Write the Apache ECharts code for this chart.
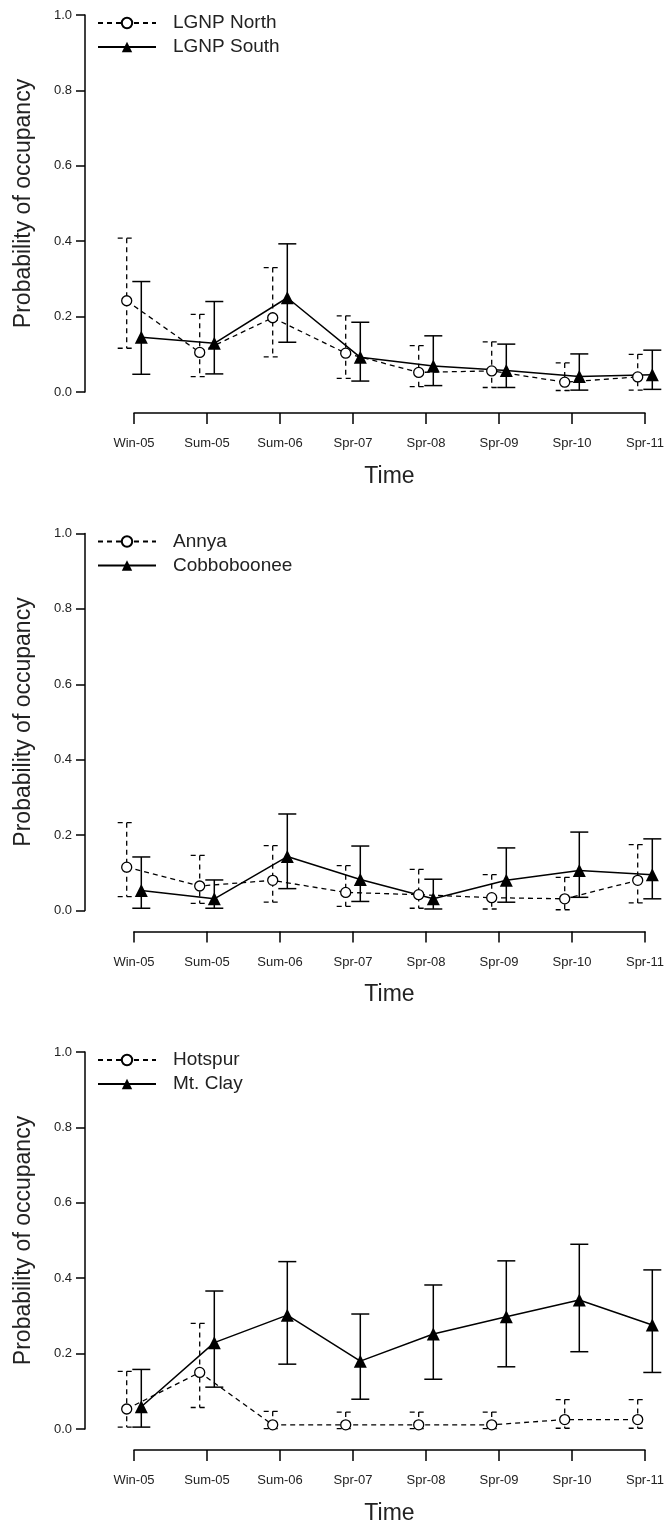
<!DOCTYPE html>
<html>
<head>
<meta charset="utf-8">
<title>Probability of occupancy</title>
<script src="https://cdn.jsdelivr.net/npm/echarts@6/dist/echarts.min.js"></script>
<style>
  html, body { margin: 0; padding: 0; background: #fff; }
  #chart { width: 664px; height: 1526px; }
</style>
</head>
<body>
<div id="chart"></div>
<script>
// survey occasions (x categories)
var times = ["Win-05", "Sum-05", "Sum-06", "Spr-07", "Spr-08", "Spr-09", "Spr-10", "Spr-11"];

// panel 1
var lgnpNorth = [0.242, 0.105, 0.197, 0.103, 0.052, 0.056, 0.026, 0.040];
var lgnpNorthLow = [0.116, 0.041, 0.093, 0.036, 0.014, 0.012, 0.004, 0.005];
var lgnpNorthHigh = [0.408, 0.206, 0.330, 0.202, 0.123, 0.133, 0.077, 0.100];
var lgnpSouth = [0.145, 0.129, 0.250, 0.092, 0.069, 0.057, 0.041, 0.046];
var lgnpSouthLow = [0.047, 0.048, 0.132, 0.029, 0.017, 0.012, 0.005, 0.007];
var lgnpSouthHigh = [0.293, 0.240, 0.393, 0.185, 0.149, 0.127, 0.101, 0.111];

// panel 2
var annya = [0.115, 0.065, 0.080, 0.048, 0.042, 0.034, 0.031, 0.080];
var annyaLow = [0.037, 0.019, 0.022, 0.011, 0.006, 0.004, 0.002, 0.020];
var annyaHigh = [0.233, 0.146, 0.172, 0.119, 0.109, 0.095, 0.088, 0.175];
var cobboboonee = [0.053, 0.031, 0.143, 0.082, 0.031, 0.080, 0.106, 0.095];
var cobbobooneeLow = [0.006, 0.006, 0.058, 0.024, 0.004, 0.022, 0.035, 0.031];
var cobbobooneeHigh = [0.142, 0.081, 0.256, 0.171, 0.083, 0.166, 0.208, 0.190];

// panel 3
var hotspur = [0.053, 0.150, 0.011, 0.011, 0.011, 0.011, 0.025, 0.025];
var hotspurLow = [0.005, 0.057, 0.001, 0.001, 0.001, 0.001, 0.002, 0.002];
var hotspurHigh = [0.153, 0.280, 0.047, 0.045, 0.045, 0.045, 0.078, 0.078];
var mtClay = [0.059, 0.229, 0.302, 0.180, 0.252, 0.298, 0.342, 0.276];
var mtClayLow = [0.005, 0.111, 0.172, 0.079, 0.132, 0.165, 0.205, 0.150];
var mtClayHigh = [0.158, 0.366, 0.444, 0.305, 0.382, 0.446, 0.490, 0.422];

var panels = [
  { dashed: ["LGNP North", lgnpNorth, lgnpNorthLow, lgnpNorthHigh],
    solid: ["LGNP South", lgnpSouth, lgnpSouthLow, lgnpSouthHigh] },
  { dashed: ["Annya", annya, annyaLow, annyaHigh],
    solid: ["Cobboboonee", cobboboonee, cobbobooneeLow, cobbobooneeHigh] },
  { dashed: ["Hotspur", hotspur, hotspurLow, hotspurHigh],
    solid: ["Mt. Clay", mtClay, mtClayLow, mtClayHigh] }
];

// layout (pixels)
var FONT = "'Liberation Sans', Arial, sans-serif";
var TXT = "#222";
var AXIS_X = 85;        // y axis line
var FIRST_TICK = 134;   // Win-05
var STEP = 73;          // distance between occasions
var PANEL_TOP = 15;     // y of 1.0 in first panel
var PANEL_STEP = 518.5;
var PLOT_H = 377;
var DODGE = 0.1;        // sideways shift of the two sites
var CAP = 9;            // half width of error bar caps

var xMin = -(FIRST_TICK - AXIS_X) / STEP;
var xMax = xMin + (664 - AXIS_X) / STEP;

function errorBars(dashed) {
  return function (params, api) {
    var x = api.value(0);
    var lo = api.coord([x, api.value(1)]);
    var hi = api.coord([x, api.value(2)]);
    var style = {
      stroke: "#000",
      lineWidth: dashed ? 1.3 : 1.5,
      lineDash: dashed ? [5, 4] : null,
      fill: null
    };
    return {
      type: "group",
      children: [
        { type: "line", shape: { x1: hi[0], y1: hi[1], x2: lo[0], y2: lo[1] }, style: style },
        { type: "line", shape: { x1: hi[0] - CAP, y1: hi[1], x2: hi[0] + CAP, y2: hi[1] }, style: style },
        { type: "line", shape: { x1: lo[0] - CAP, y1: lo[1], x2: lo[0] + CAP, y2: lo[1] }, style: style }
      ]
    };
  };
}

var grid = [], xAxis = [], yAxis = [], legend = [], series = [];

panels.forEach(function (p, k) {
  var top = PANEL_TOP + k * PANEL_STEP;
  var a = grid.length;
  // data grid
  grid.push({ left: AXIS_X, width: 664 - AXIS_X, top: top, height: PLOT_H, outerBoundsMode: "none" });
  // separate time axis, drawn below the plot like in R
  grid.push({ left: FIRST_TICK, right: 664 - (FIRST_TICK + 7 * STEP), top: top + PLOT_H + 20, height: 1, outerBoundsMode: "none" });

  xAxis.push({ gridIndex: a, type: "value", min: xMin, max: xMax, show: false });
  yAxis.push({
    gridIndex: a, type: "value", min: 0, max: 1, interval: 0.2,
    name: "Probability of occupancy", nameLocation: "middle", nameGap: 50,
    nameTextStyle: { fontFamily: FONT, fontSize: 23, color: TXT },
    axisLine: { show: true, onZero: false, lineStyle: { color: "#000", width: 1.5 } },
    axisTick: { show: true, inside: false, length: 9, lineStyle: { color: "#000", width: 1.5 } },
    axisLabel: { margin: 13, fontFamily: FONT, fontSize: 13, color: TXT,
      formatter: function (v) { return v.toFixed(1); } },
    splitLine: { show: false }
  });

  xAxis.push({
    gridIndex: a + 1, type: "category", data: times, boundaryGap: false, position: "bottom",
    name: "Time", nameLocation: "middle", nameGap: 52,
    nameTextStyle: { fontFamily: FONT, fontSize: 23, color: TXT },
    axisLine: { show: true, onZero: false, lineStyle: { color: "#000", width: 1.5 } },
    axisTick: { show: true, inside: false, length: 11, lineStyle: { color: "#000", width: 1.5 } },
    axisLabel: { interval: 0, margin: 24, fontFamily: FONT, fontSize: 13, color: TXT },
    splitLine: { show: false }
  });
  yAxis.push({ gridIndex: a + 1, type: "value", show: false });

  legend.push({
    orient: "vertical", left: 97, top: top - 2, padding: 0,
    itemWidth: 58, itemHeight: 13, itemGap: 4,
    textStyle: { fontFamily: FONT, fontSize: 19, color: TXT, lineHeight: 20, padding: [0, 0, 0, 12] },
    data: [p.dashed[0], p.solid[0]]
  });

  [p.dashed, p.solid].forEach(function (s, j) {
    var dashed = j === 0;
    var shift = dashed ? -DODGE : DODGE;
    var pts = s[1].map(function (v, i) { return [i + shift, v]; });
    var bars = s[1].map(function (v, i) { return [i + shift, s[2][i], s[3][i]]; });
    series.push({
      name: s[0] + " CI", type: "custom", xAxisIndex: a, yAxisIndex: a,
      renderItem: errorBars(dashed), clip: false, z: 1,
      encode: { x: 0, y: [1, 2] },
      data: bars
    });
    series.push({
      name: s[0], type: "line", xAxisIndex: a, yAxisIndex: a, clip: false, z: 3,
      symbol: dashed ? "circle" : "triangle",
      symbolSize: dashed ? 10 : 13,
      lineStyle: { color: "#000", width: dashed ? 1.3 : 1.5, type: dashed ? [5, 4] : "solid" },
      itemStyle: dashed ? { color: "#fff", borderColor: "#000", borderWidth: 1.3 } : { color: "#000", borderWidth: 0 },
      data: pts
    });
  });
});

var chart = echarts.init(document.getElementById("chart"));
chart.setOption({
  animation: false,
  backgroundColor: "#fff",
  grid: grid,
  xAxis: xAxis,
  yAxis: yAxis,
  legend: legend,
  series: series
});
</script>
</body>
</html>
